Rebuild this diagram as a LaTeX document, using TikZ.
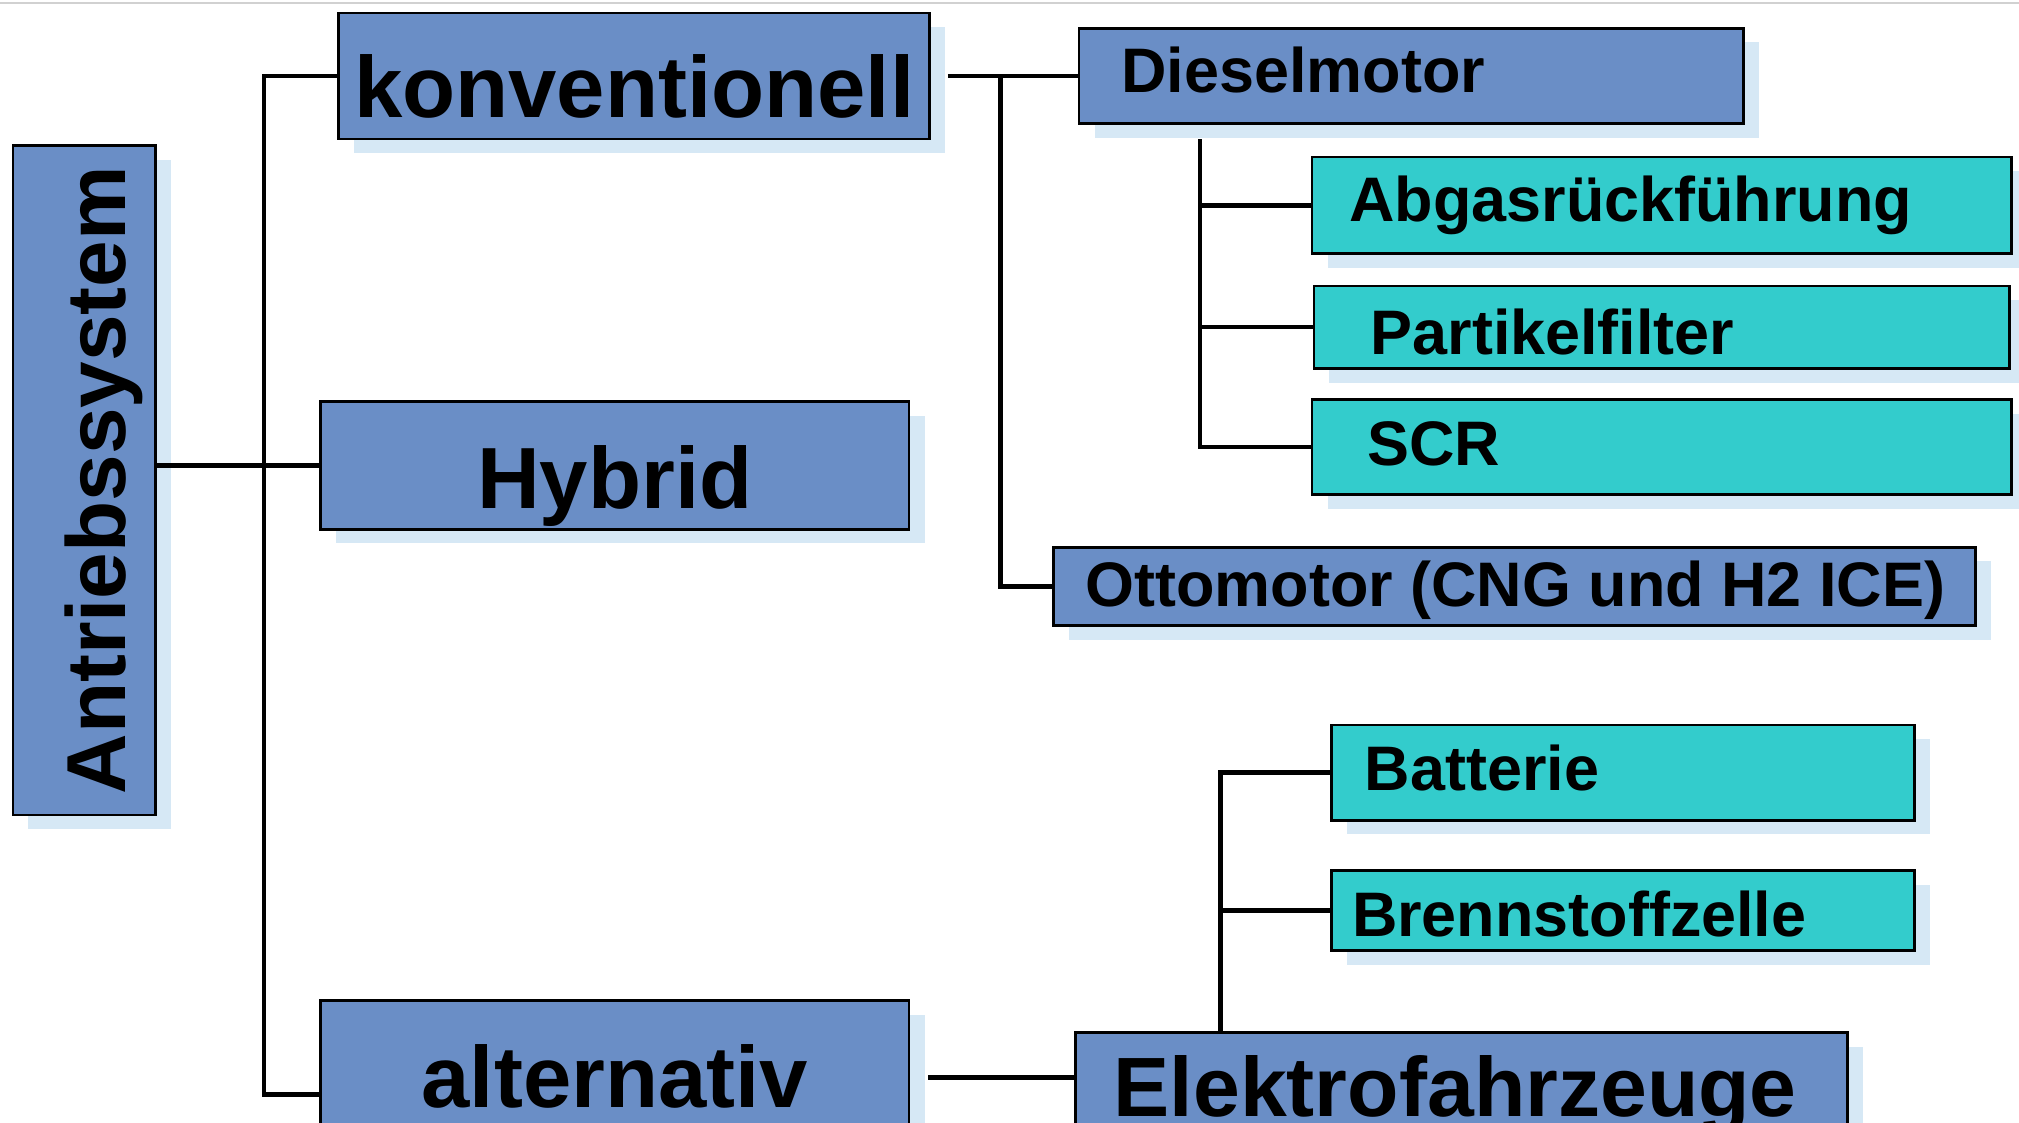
\documentclass[tikz,border=0pt]{standalone}
\usepackage{fontspec}
\setmainfont{Liberation Sans}
\usepackage{tikz}
\usetikzlibrary{positioning,shadows}
\definecolor{boxblue}{RGB}{106,142,198}
\definecolor{boxteal}{RGB}{51,204,204}
\definecolor{shadeblue}{RGB}{214,232,245}
\newcommand{\lbox}[2]{\makebox[#1][l]{#2}}
\newcommand{\bigfont}{\fontsize{19.2}{23}\selectfont\bfseries}
\newcommand{\smallfont}{\fontsize{13.9}{17}\selectfont\bfseries}

\begin{document}
\begin{tikzpicture}[
  abox/.style={draw, line width=0.6pt, inner sep=0pt,
    drop shadow={shadow xshift=0.12cm, shadow yshift=-0.11cm,
      fill=shadeblue, opacity=1}},
  bluebox/.style={abox, fill=boxblue},
  tealbox/.style={abox, fill=boxteal},
  conn/.style={line width=1.0pt},
  bl/.style={text height=#1, text depth=0pt}
]
  \useasboundingbox (0,0) rectangle (15.68,-8.72);
  \clip (0,0) rectangle (15.68,-8.72);
  \draw[black!18, line width=0.45pt] (0,-0.023) -- (15.68,-0.023);

  % Root and first level
  \node[bluebox, rotate=90, minimum width=5.20cm, minimum height=1.11cm,
        font=\fontsize{18.5}{22}\selectfont\bfseries, bl=0.64cm]
        (root) at (0.655,-3.73) {Antriebssystem};
  \node[bluebox, minimum width=4.59cm, minimum height=0.98cm,
        font=\bigfont, bl=0.64cm] (konv) at (4.925,-0.59) {konventionell};
  \node[bluebox, minimum width=4.57cm, minimum height=0.99cm,
        font=\bigfont, bl=0.67cm] (hybrid) at (4.775,-3.615) {Hybrid};
  \node[bluebox, minimum width=4.57cm, minimum height=1.46cm,
        font=\bigfont, bl=0.2cm] (altern) at (4.775,-8.50) {alternativ};

  % Conventional drives
  \node[bluebox, minimum height=0.74cm, inner xsep=0.33cm,
        font=\smallfont, bl=0.26cm] (diesel) at (10.96,-0.59)
        {\lbox{4.50cm}{Dieselmotor}};
  \node[tealbox, minimum height=0.75cm, inner xsep=0.29cm,
        font=\smallfont, bl=0.25cm] (abgas) at (12.905,-1.595)
        {\lbox{4.85cm}{Abgasrückführung}};
  \node[tealbox, minimum height=0.64cm, inner xsep=0.44cm,
        font=\smallfont, bl=0.42cm, below=0.23cm of abgas] (partikel)
        {\lbox{4.52cm}{Partikelfilter}};
  \node[tealbox, minimum height=0.74cm, inner xsep=0.43cm,
        font=\smallfont, bl=0.28cm, below=0.22cm of partikel] (scr)
        {\lbox{4.57cm}{SCR}};
  \node[bluebox, minimum height=0.61cm, inner xsep=0.25cm,
        font=\smallfont, bl=0.31cm] (otto) at (11.76,-4.555)
        {\lbox{6.66cm}{Ottomotor (CNG und H2 ICE)}};

  % Alternative drives
  \node[tealbox, minimum height=0.74cm, inner xsep=0.26cm,
        font=\smallfont, bl=0.28cm] (batterie) at (12.605,-6.00)
        {\lbox{4.01cm}{Batterie}};
  \node[tealbox, minimum height=0.62cm, inner xsep=0.16cm,
        font=\smallfont, bl=0.40cm, below=0.37cm of batterie] (brenn)
        {\lbox{4.21cm}{Brennstoffzelle}};
  \node[bluebox, minimum height=1.20cm, inner xsep=0.30cm,
        font=\fontsize{18.6}{22}\selectfont\bfseries, bl=0.10cm]
        (elektro) at (11.35,-8.62) {\lbox{5.40cm}{Elektrofahrzeuge}};

  % Connectors
  \coordinate (tx) at (2.05,0);
  \coordinate (ox) at (7.77,0);
  \coordinate (dx) at (9.32,-1.08);
  \coordinate (ex) at (9.48,0);
  \coordinate (ein) at ([yshift=0.25cm]elektro.west);

  \draw[conn] (root.south |- hybrid.west) -- (hybrid.west);
  \draw[conn] (konv.west) -| (tx |- altern.west) -- (altern.west);
  \draw[conn] ([xshift=0.13cm]konv.east) -- (diesel.west);
  \draw[conn] (diesel.west -| ox) |- (otto.west);
  \draw[conn] (dx) |- (scr.west);
  \draw[conn] (abgas.west -| dx) -- (abgas.west);
  \draw[conn] (partikel.west -| dx) -- (partikel.west);
  \draw[conn] ([xshift=0.14cm]altern.east |- ein) -- (ein);
  \draw[conn] (elektro.north -| ex) |- (batterie.west);
  \draw[conn] (brenn.west -| ex) -- (brenn.west);
\end{tikzpicture}
\end{document}
